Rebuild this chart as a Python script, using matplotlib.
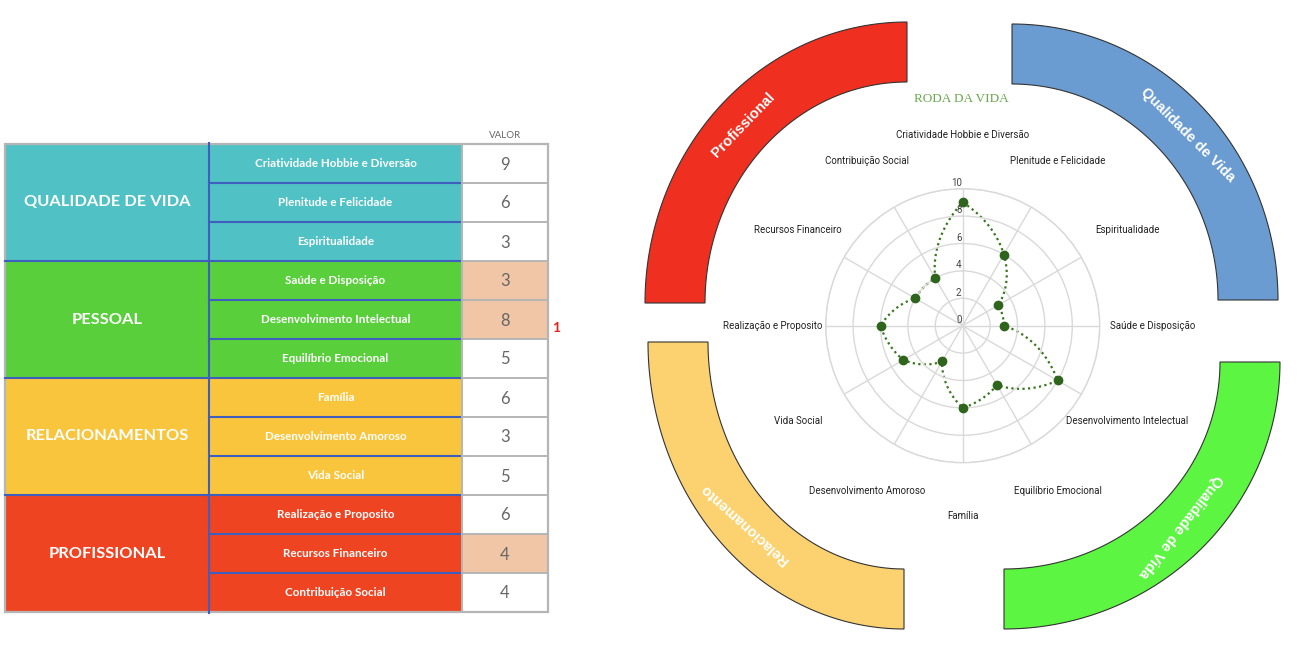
import numpy as np
import matplotlib.pyplot as plt
from matplotlib.patches import Rectangle, Polygon, PathPatch
from matplotlib.path import Path

W, H = 1308, 648

# --- dados ---
grupos = ["QUALIDADE DE VIDA", "PESSOAL", "RELACIONAMENTOS", "PROFISSIONAL"]
cores_grupos = ["#50c1c5", "#58cf3b", "#f9c53c", "#ef4422"]
areas = [
    "Criatividade Hobbie e Diversão", "Plenitude e Felicidade", "Espiritualidade",
    "Saúde e Disposição", "Desenvolvimento Intelectual", "Equilíbrio Emocional",
    "Família", "Desenvolvimento Amoroso", "Vida Social",
    "Realização e Proposito", "Recursos Financeiro", "Contribuição Social",
]
valores = [9, 6, 3, 3, 8, 5, 6, 3, 5, 6, 4, 4]
destaque = [3, 4, 10]  # linhas com a célula de valor pintada
radar_ticks = [0, 2, 4, 6, 8, 10]

arcos_labels = ["Profissional", "Qualidade de Vida", "Relacionamento", "Qualidade de Vida"]
arcos_cores = ["#ef2f1f", "#6a9bd1", "#fcd271", "#5cf542"]

# geometria dos arcos (px): centro, semi-eixos externos, ângulo inicial, ângulo do texto, rotação
arcos_geo = [
    (907, 303, 262, 281, 90, 135, 46),
    (1012, 300, 266, 276, 0, 42, -45),
    (904, 342, 256, 287, 180, 225, 138),
    (1004, 362, 276, 267, 270, -44, -128),
]
ESP = 60

fig = plt.figure(figsize=(W / 100, H / 100), dpi=100)
bg = fig.add_axes([0, 0, 1, 1])
bg.set_xlim(0, W)
bg.set_ylim(H, 0)
bg.axis("off")

# --- tabela ---
x0, x1, x2, x3 = 5, 209, 462, 548
y0, rh = 144, 39
azul = "#3f5fbf"
cinza = "#b5b5b5"

for g, nome in enumerate(grupos):
    yt = y0 + 3 * g * rh
    bg.add_patch(Rectangle((x0, yt), x1 - x0, 3 * rh, fc=cores_grupos[g], ec="none"))
    bg.text((x0 + x1) / 2, yt + 1.5 * rh, nome, ha="center", va="center",
            color="white", fontsize=11.8, fontweight="bold", family="Lato")

for i, area in enumerate(areas):
    yt = y0 + i * rh
    bg.add_patch(Rectangle((x1, yt), x2 - x1, rh, fc=cores_grupos[i // 3], ec="none"))
    bg.add_patch(Rectangle((x2, yt), x3 - x2, rh,
                           fc="#f0c6a7" if i in destaque else "white", ec="none"))
    bg.text((x1 + x2) / 2, yt + rh / 2, area, ha="center", va="center",
            color="white", fontsize=8.4, fontweight="bold", family="Lato")
    bg.text((x2 + x3) / 2, yt + rh / 2 + 1, str(valores[i]), ha="center", va="center",
            color="#666666", fontsize=12, family="Lato")

for i in range(1, 12):
    y = y0 + i * rh
    bg.plot([x2, x3], [y, y], color=cinza, lw=1.4)
    if i % 3 == 0:
        bg.plot([x0, x2], [y, y], color=azul, lw=1.5)
    else:
        bg.plot([x1, x2], [y, y], color=azul, lw=1.5)

bg.plot([x2, x2], [y0, y0 + 12 * rh], color=cinza, lw=1.4)
bg.add_patch(Rectangle((x0, y0), x3 - x0, 12 * rh, fc="none", ec=cinza, lw=1.6))
bg.plot([x1, x1], [y0 - 1, y0 + 12 * rh + 1], color=azul, lw=1.5)
bg.text((x2 + x3) / 2, 136, "VALOR", ha="center", va="center",
        color="#666666", fontsize=7, family="Lato")
bg.text(556, 328, "1", ha="center", va="center", color="#e8231e",
        fontsize=10, fontweight="bold", family="Lato")

# --- arcos ---
for (cx, cy, a, b, t0, tt, rot), lab, cor in zip(arcos_geo, arcos_labels, arcos_cores):
    t = np.radians(np.linspace(t0, t0 + 90, 80))
    ext = np.column_stack([cx + a * np.cos(t), cy - b * np.sin(t)])
    inn = np.column_stack([cx + (a - ESP) * np.cos(t), cy - (b - ESP) * np.sin(t)])[::-1]
    bg.add_patch(Polygon(np.vstack([ext, inn]), closed=True, fc=cor, ec="#333333", lw=0.8))
    tr = np.radians(tt)
    bg.text(cx + (a - ESP / 2) * np.cos(tr), cy - (b - ESP / 2) * np.sin(tr), lab,
            rotation=rot, rotation_mode="anchor", ha="center", va="center",
            color="white", fontsize=10.5, fontweight="bold", family="Liberation Sans")

bg.text(961, 99, "RODA DA VIDA", ha="center", va="center", color="#6aa84f",
        fontsize=9.5, family="Liberation Serif")

# --- radar ---
cx, cy, R = 962.7, 325.7, 137
ax = fig.add_axes([(cx - R) / W, (H - cy - R) / H, 2 * R / W, 2 * R / H], projection="polar")
ax.patch.set_alpha(0)
ax.set_theta_zero_location("N")
ax.set_theta_direction(-1)
theta = np.radians(np.arange(len(areas)) * 360 / len(areas))
ax.set_ylim(0, 10)
ax.set_yticks(radar_ticks)
ax.set_yticklabels([])
ax.set_xticks(theta)
ax.set_xticklabels([])
ax.grid(color="#d9d9d9", lw=1)
ax.spines["polar"].set_color("#d9d9d9")
ax.spines["polar"].set_linewidth(1)

# linha pontilhada interpolada em coordenadas polares (curva, como no original)
th_closed = np.append(theta, 2 * np.pi)
r_closed = np.array(valores + valores[:1], dtype=float)
caminho = Path(np.column_stack([th_closed, r_closed]), _interpolation_steps=40)
ax.add_patch(PathPatch(caminho, transform=ax.transData, fill=False,
                       ec="#38761d", lw=1.6, ls=(0, (1, 1.5))))
ax.plot(theta, valores, ls="none", marker="o", ms=6, mfc="#2e641c", mec="#2e641c")

for th, nome in zip(theta, areas):
    ax.text(th, 13.9, nome, ha="center", va="center", fontsize=7,
            family="Roboto", color="#222222")
for v in radar_ticks:
    ax.annotate(str(v), xy=(0, v), xytext=(-0.8, 4.1), textcoords="offset points",
                ha="right", va="center", fontsize=7, family="Roboto", color="#444444")

fig.savefig("out.png", dpi=100)
plt.close()
